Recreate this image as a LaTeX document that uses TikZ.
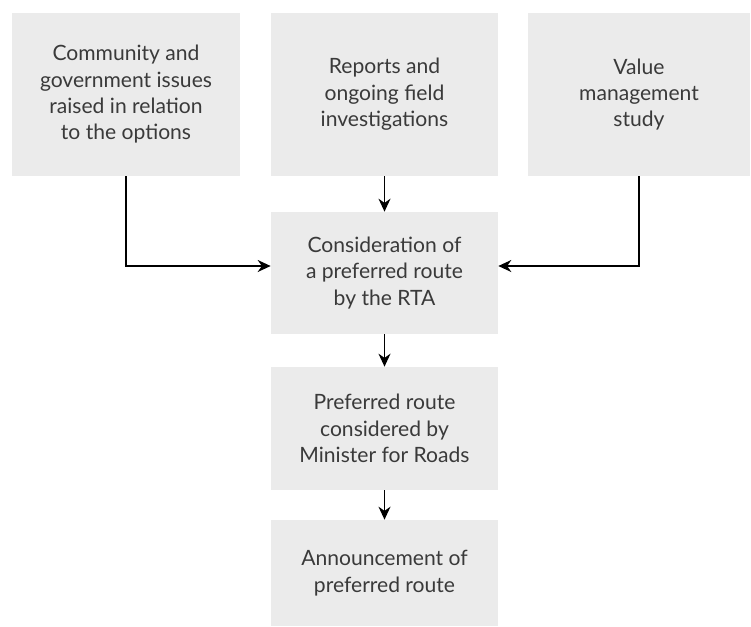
\documentclass[tikz,border=0pt]{standalone}
\usepackage{fontspec}
\setmainfont{Lato}
\usepackage{xcolor}
\usetikzlibrary{positioning,arrows.meta}
\definecolor{boxgray}{HTML}{EBEBEB}
\definecolor{txtgray}{HTML}{3A3A3A}

\begin{document}
\begin{tikzpicture}[
  x=0.02cm, y=-0.02cm,
  font=\fontsize{12}{15}\selectfont,
  box/.style={fill=boxgray, text=txtgray, align=center, inner sep=0pt},
  arr/.style={-{Stealth[length=2.6mm, width=2.4mm]}, line width=0.9pt}]
\useasboundingbox (0,0) rectangle (751,626);
\node[box, minimum width=4.56cm, minimum height=3.26cm] (comm) at (126,94.5) {Community and\\government issues\\raised in relation\\to the options};
\node[box, minimum width=4.54cm, minimum height=3.26cm] (reports) at (384.5,94.5) {Reports and\\ongoing field\\investigations};
\node[box, minimum width=4.44cm, minimum height=3.26cm] (value) at (639,94.5) {Value\\management\\study};
\node[box, minimum width=4.54cm, minimum height=2.44cm] (consider) at (384.5,273) {Consideration of\\a preferred route\\by the RTA};
\node[box, minimum width=4.54cm, minimum height=2.46cm] (minister) at (384.5,428.5) {Preferred route\\considered by\\Minister for Roads};
\node[box, minimum width=4.54cm, minimum height=2.12cm] (announce) at (384.5,573) {Announcement of\\preferred route};
\draw[arr] (comm.south) |- ([yshift=0.14cm]consider.west);
\draw[arr] (value.south) |- ([yshift=0.14cm]consider.east);
\draw[arr] (reports) -- (consider);
\draw[arr] (consider) -- (minister);
\draw[arr] (minister) -- (announce);
\end{tikzpicture}
\end{document}
